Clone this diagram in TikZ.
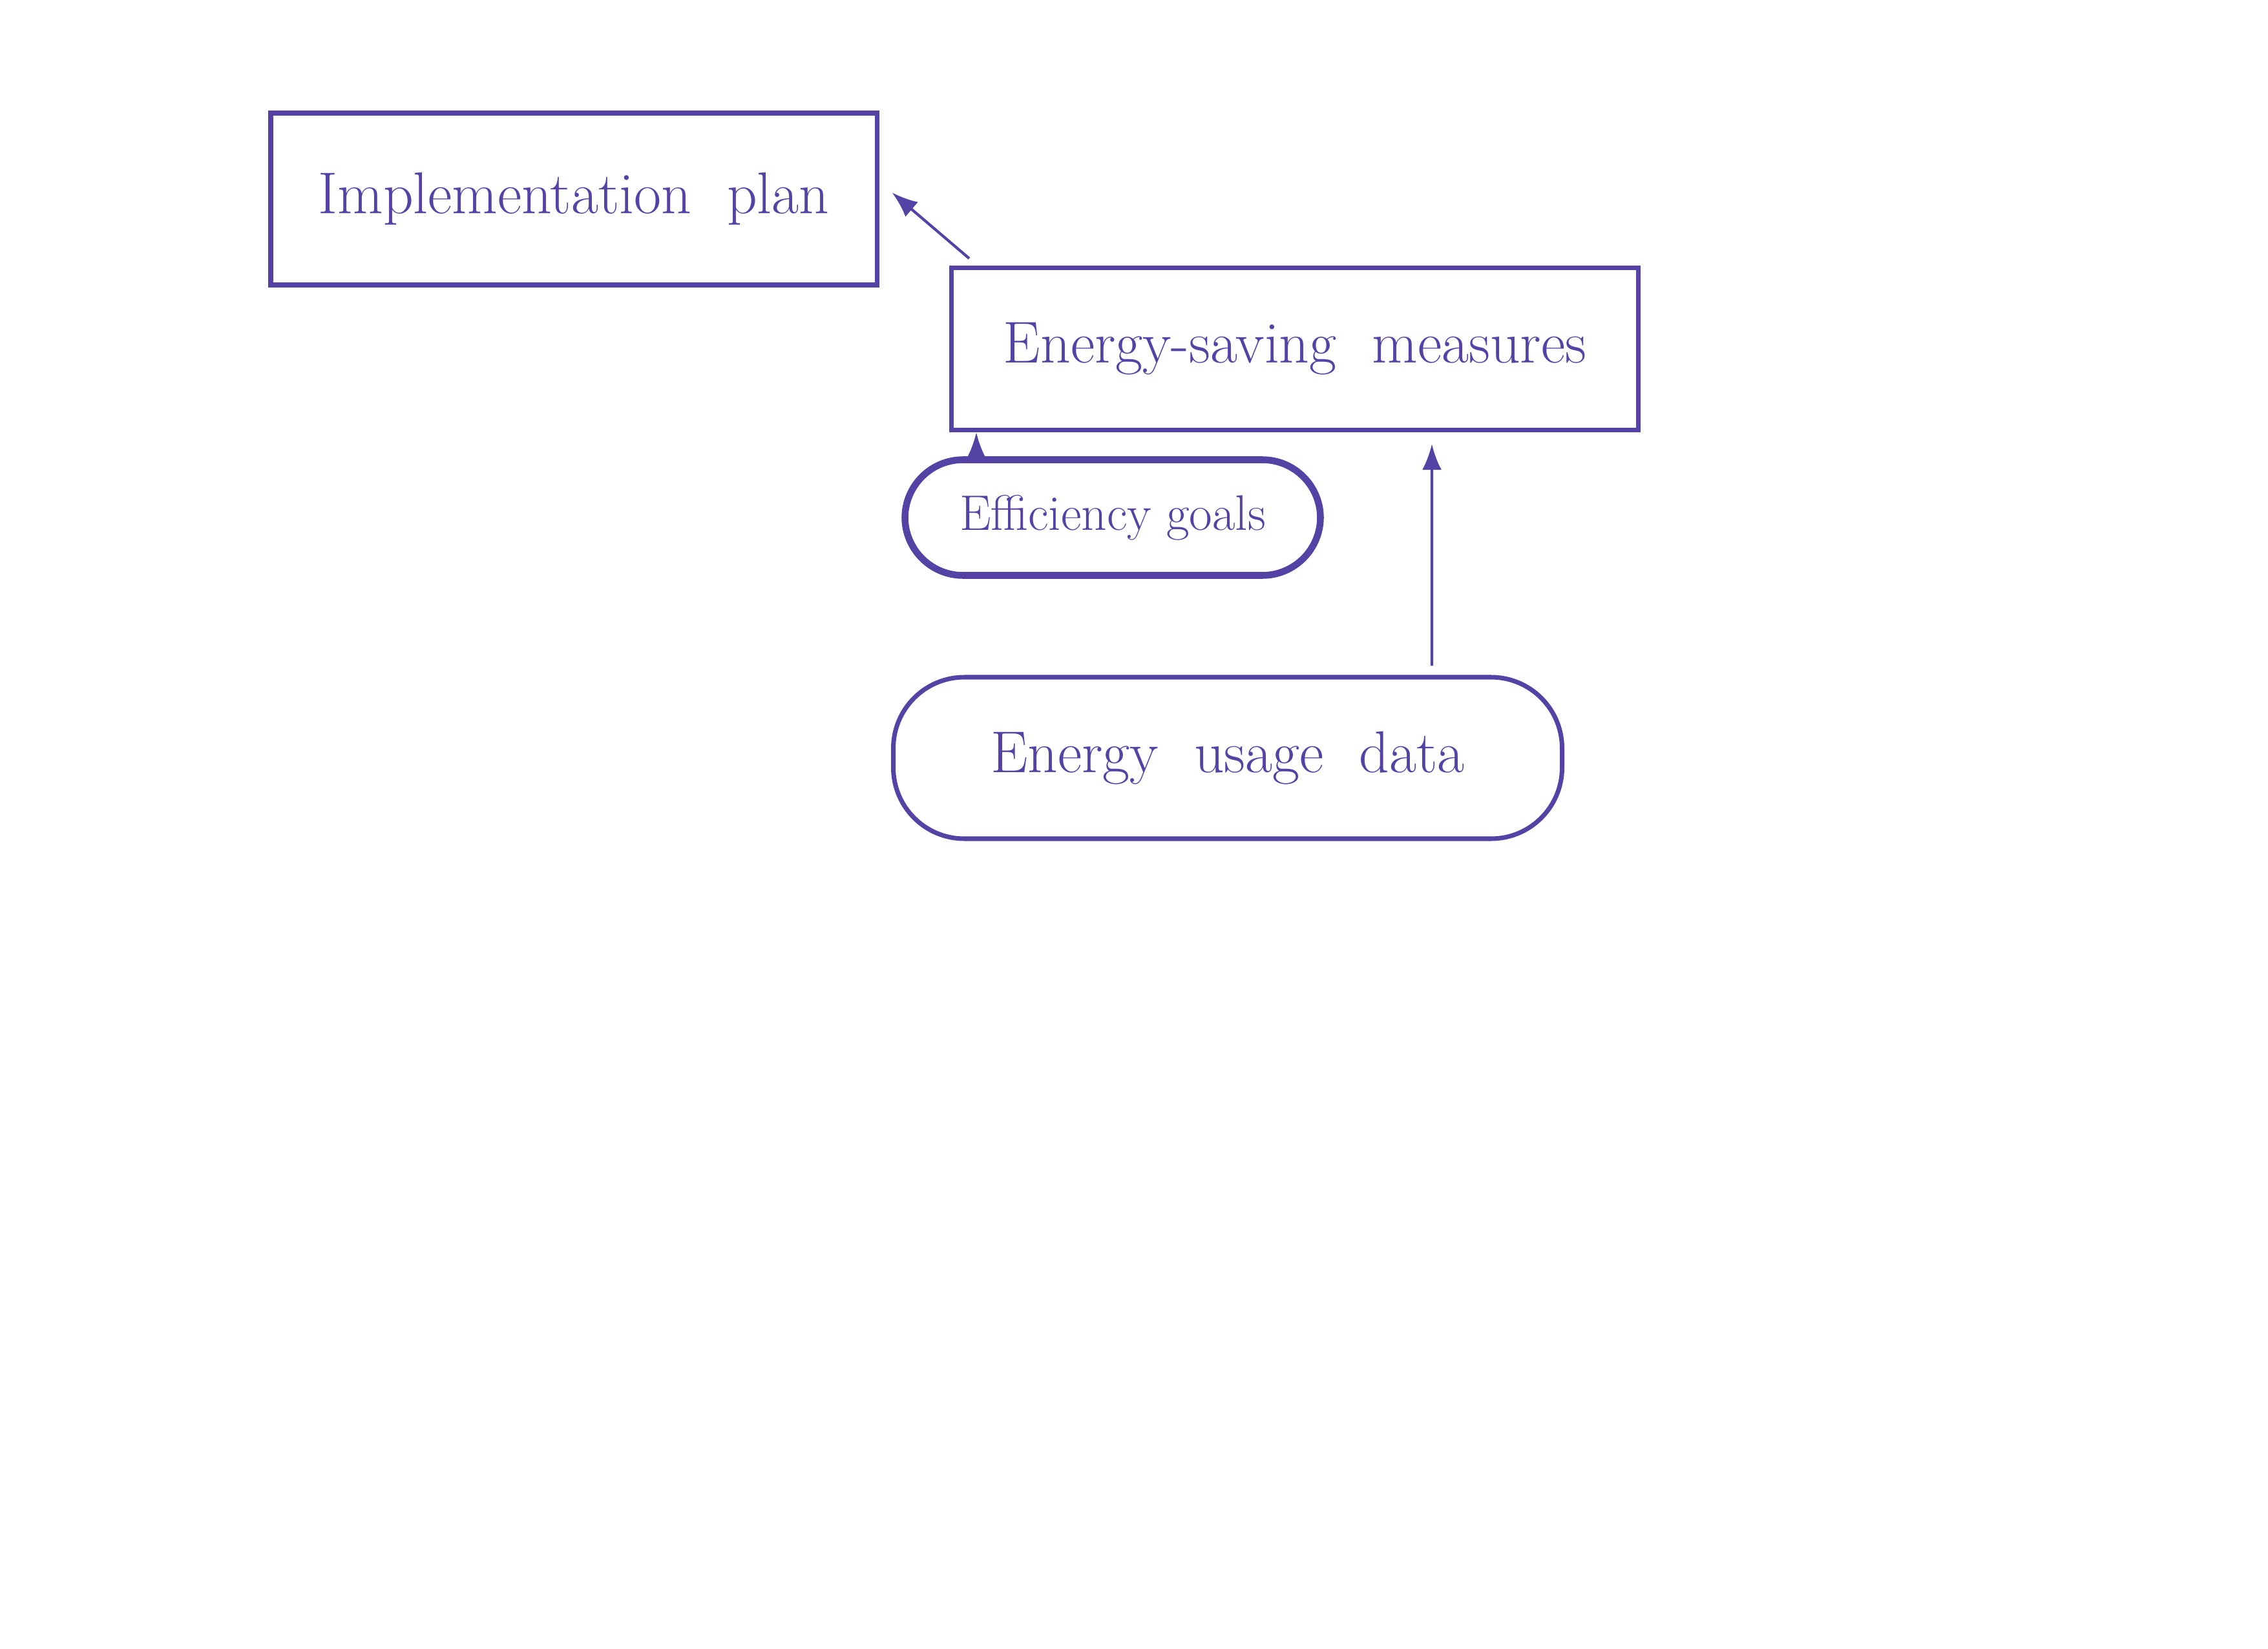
\documentclass[tikz,border=0pt]{standalone}
\usepackage{tikz}
\usepackage{xcolor}
\usetikzlibrary{arrows.meta,positioning}
\definecolor{inkblue}{RGB}{84,66,165}

\begin{document}
\begin{tikzpicture}[>={Latex[length=0.4cm,width=0.3cm]}, every node/.style={font=\fontsize{26}{30}\selectfont, text=inkblue},
  box/.style={draw=inkblue, line width=2pt, minimum height=2.5cm},
  blob/.style={draw=inkblue, line width=2pt, rounded corners=0.9cm, minimum height=2.5cm},
  link/.style={->, draw=inkblue, line width=1.2pt}]
\useasboundingbox (0,0) rectangle (35.1,-25.52);
\node[box,minimum width=9.38cm,minimum height=2.66cm] (plan) at (8.88,-3.08) {Implementation\ \ plan};
\node[box,minimum width=10.63cm,minimum height=2.51cm] (meas) at (20.04,-5.40) {Energy-saving\ \ measures};
\node[blob,line width=3pt,minimum width=6.43cm,minimum height=1.79cm,font=\fontsize{22}{26}\selectfont] (goals) at (17.22,-8.01) {Efficiency goals};
\node[blob,rounded corners=1.1cm,minimum width=10.35cm] (usage) at (19.00,-11.73) {Energy\ \ usage\ \ data};
\draw[link] ([xshift=0.31cm,yshift=0.11cm]meas.north west) -- ([xshift=0.2cm,yshift=0.1cm]plan.east);
\draw[link] ([xshift=-2.11cm]goals.north) -- ([xshift=-4.93cm]meas.south);
\draw[link] ([xshift=3.16cm,yshift=0.14cm]usage.north) -- ([xshift=2.12cm,yshift=-0.18cm]meas.south);
\end{tikzpicture}
\end{document}
